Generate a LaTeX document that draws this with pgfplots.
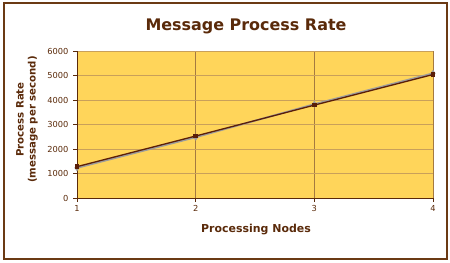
\documentclass[border=0pt]{standalone}
\usepackage{pgfplots}
\pgfplotsset{compat=1.18}
\usepackage{fontspec}
\setmainfont{DejaVu Sans}
\definecolor{bgc}{HTML}{FFD55A}
\definecolor{hgrid}{HTML}{C9A05A}
\definecolor{vgrid}{HTML}{A57A40}
\definecolor{txt}{HTML}{5A2A0A}
\definecolor{brd}{HTML}{6B3A14}
\definecolor{lineA}{HTML}{5A1E08}
\definecolor{lineB}{HTML}{9C9C9C}
\begin{document}
\begin{tikzpicture}
\path[use as bounding box] (0bp,0bp) rectangle (450bp,263bp);
\draw[brd, line width=2bp] (3.5bp,3.5bp) rectangle (446.5bp,259.5bp);
\node[txt, font=\fontsize{16}{18}\selectfont\bfseries] at (246bp,237bp) {Message Process Rate};
\node[txt, font=\fontsize{11}{13}\selectfont\bfseries] at (256bp,33.5bp) {Processing Nodes};
\node[txt, rotate=90, align=center, font=\fontsize{10.2}{12}\selectfont\bfseries] at (27bp,143.5bp) {Process Rate\\(message per second)};
\begin{axis}[
  at={(77bp,65bp)}, anchor=south west,
  scale only axis, width=356bp, height=147bp,
  xmin=1, xmax=4, ymin=0, ymax=6000,
  xtick={1,2,3,4}, ytick={0,1000,...,6000},
  axis x line*=bottom, axis y line*=left,
  axis line style={txt, line width=0.9bp, -},
  tick align=outside, major tick length=4bp,
  tick style={txt, line width=0.8bp},
  ticklabel style={txt, font=\fontsize{8.3}{10}\selectfont},
  /pgf/number format/assume math mode=true,
  /pgf/number format/1000 sep={},
  scaled y ticks=false,
  grid=major,
  x grid style={vgrid, line width=0.7bp},
  y grid style={hgrid, line width=0.9bp},
  axis background/.style={fill=bgc},
  yticklabel style={xshift=-1bp},
  clip=false,
]
\addplot[lineB, line width=1.8bp, mark=diamond*, mark size=2bp, mark options={fill=lineB, draw=lineB}]
  coordinates {(1,1230) (2,2480) (3,3830) (4,5090)};
\addplot[lineA, line width=1.3bp, mark=square*, mark size=1.6bp, mark options={fill=lineA, draw=lineA}]
  coordinates {(1,1280) (2,2530) (3,3790) (4,5040)};
\end{axis}
\end{tikzpicture}
\end{document}
